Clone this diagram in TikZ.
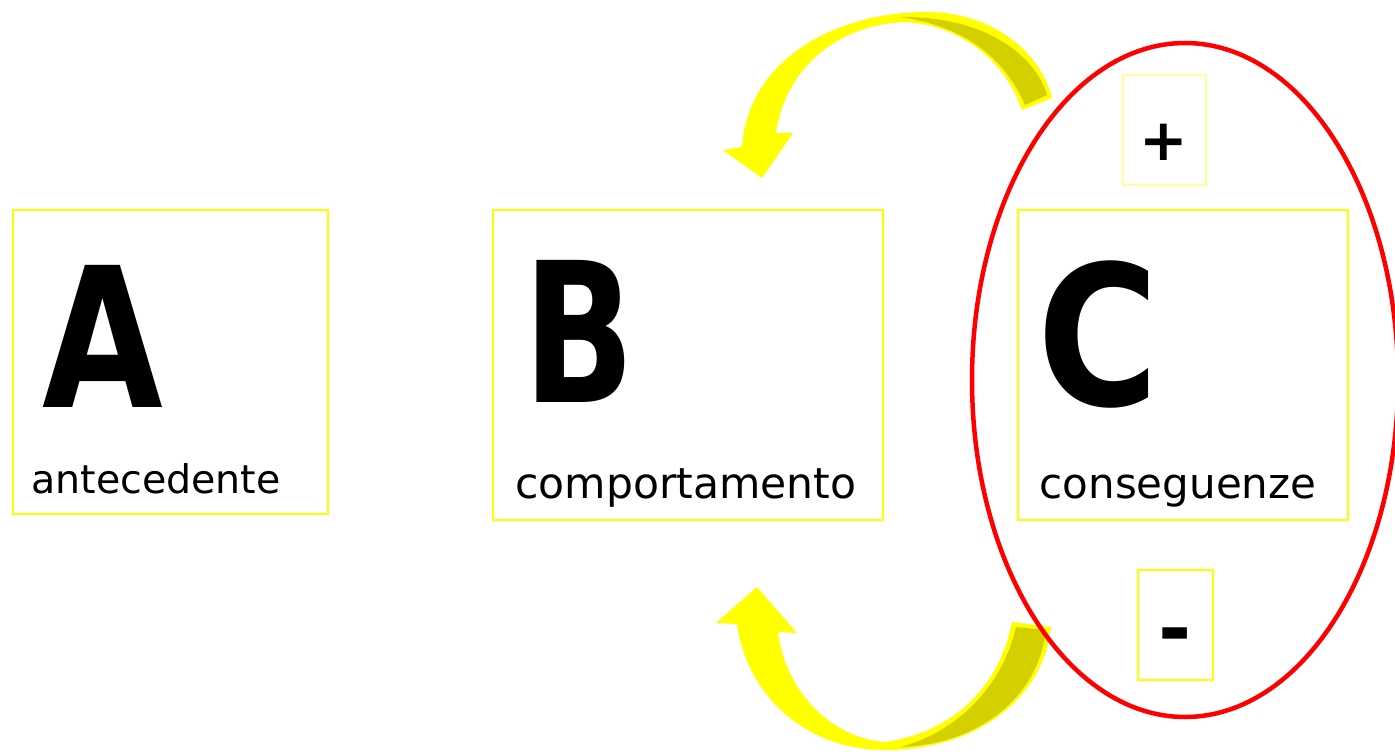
\documentclass[tikz,border=0pt]{standalone}
\usepackage{fontspec}
\setmainfont{DejaVu Sans}
\usetikzlibrary{shapes.geometric}
\definecolor{ylw}{RGB}{255,255,0}
\definecolor{darkylw}{RGB}{212,208,0}
\definecolor{paleylw}{RGB}{255,255,150}
\tikzset{
  box/.style={draw=ylw, line width=2pt, rectangle, inner sep=0pt},
  bigletter/.style={inner sep=0pt, font=\fontsize{195}{195}\selectfont\bfseries},
  label/.style={anchor=base, inner sep=0pt, font=\fontsize{42.5}{42.5}\selectfont},
  sign/.style={anchor=base, inner sep=0pt, font=\fontsize{58}{58}\selectfont\bfseries},
  arrowfill/.style={fill=ylw, draw=none},
  darkfill/.style={fill=darkylw, draw=none}
}
\begin{document}
\begin{tikzpicture}[x=1pt,y=-1pt]
\useasboundingbox (0,0) rectangle (1395,752);
% boxes
\node[box, minimum width=315, minimum height=304] (boxA) at (170.5,362) {};
\node[box, minimum width=390, minimum height=310] (boxB) at (688,365) {};
\node[box, minimum width=330, minimum height=310] (boxC) at (1183,365) {};
\node[box, draw=paleylw, line width=1.2pt, minimum width=83, minimum height=110] (boxP) at (1164.5,130) {};
\node[box, minimum width=75, minimum height=110] (boxM) at (1175.5,625) {};
% letters
\node[bigletter] (A) at (103,336) {\scalebox{0.8}[1]{A}};
\node[bigletter] (B) at (579,331) {\scalebox{0.75}[1]{B}};
\node[bigletter] (C) at (1098,335) {\scalebox{0.85}[1]{C}};
\node[label, font=\fontsize{39.5}{39.5}\selectfont] (la) at (156,493) {antecedente};
\node[label] (lb) at (686,498) {comportamento};
\node[label, font=\fontsize{42}{42}\selectfont] (lc) at (1178,498) {conseguenze};
\node[sign] (plus) at (1164,160) {+};
\node[sign, font=\fontsize{80}{80}\selectfont\bfseries] (minus) at (1175,656) {-};
% top curved arrow
\coordinate (tEnd) at (1052,98);
\coordinate (tTip) at (762,178);
\fill[arrowfill] (742,147) .. controls (748,60) and (835,12) .. (927,12)
  .. controls (990,12) and (1040,50) .. (tEnd) -- (1022,110)
  .. controls (1005,60) and (960,25) .. (905,22)
  .. controls (835,25) and (785,70) .. (776,133)
  -- (793,133) -- (tTip) -- (723,150) -- cycle;
\fill[darkfill] (900,17) .. controls (985,16) and (1035,55) .. (1047,95)
  -- (1025,105) .. controls (1003,55) and (962,26) .. (900,17) -- cycle;
% bottom curved arrow
\coordinate (bEnd) at (1051,627);
\coordinate (bTip) at (757,587);
\fill[arrowfill] (737,624) .. controls (748,700) and (810,750) .. (885,750)
  .. controls (975,750) and (1043,700) .. (bEnd) -- (1012,622)
  .. controls (1000,685) and (955,732) .. (885,742)
  .. controls (830,738) and (785,690) .. (778,632)
  -- (797,633) -- (bTip) -- (716,623) -- cycle;
\fill[darkfill] (1016,627) -- (1046,630) .. controls (1038,700) and (975,745) .. (900,747)
  .. controls (958,732) and (1003,685) .. (1016,627) -- cycle;
% red ellipse
\node[ellipse, draw=red, line width=4.5pt, inner sep=0pt, minimum width=426, minimum height=674] (ell) at (1185,380) {};
\end{tikzpicture}
\end{document}
